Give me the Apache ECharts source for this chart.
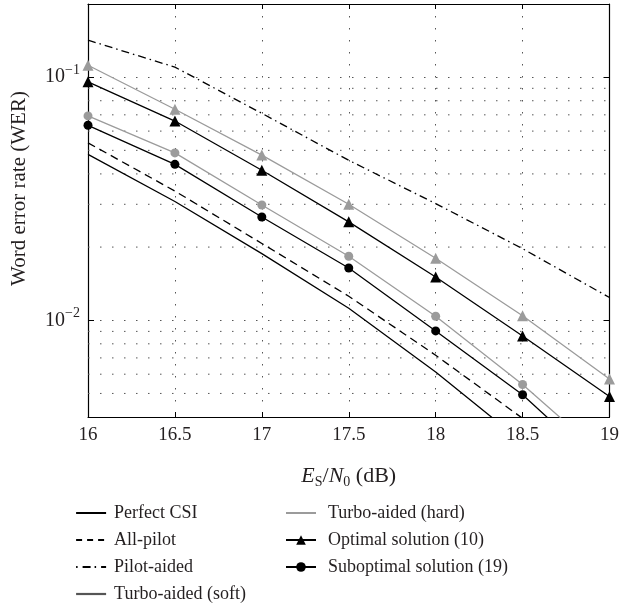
<!DOCTYPE html>
<html lang="en">
<head>
<meta charset="UTF-8">
<title>Word error rate vs Es/N0</title>
<script src="https://cdn.jsdelivr.net/npm/echarts@6/dist/echarts.min.js"></script>
<style>
  html, body { margin: 0; padding: 0; background: #fff; }
  #main { width: 622px; height: 604px; }
</style>
</head>
<body>
<div id="main"></div>
<script>
// Es/N0 in dB
var snr = [16, 16.5, 17, 17.5, 18, 18.5, 19];

// WER (points below 4e-3 only steer the clipped line end)
var perfectCSI = [0.0481, 0.0308, 0.0188, 0.0112, 0.00613, 0.00315];
var allPilot   = [0.0537, 0.0340, 0.0207, 0.01256, 0.00718, 0.00395];
var pilotAided = [0.142, 0.110, 0.071, 0.0455, 0.0302, 0.0197, 0.0124];
var turboSoft  = [0.0693, 0.0488, 0.0298, 0.01834, 0.01039, 0.00544, 0.00264];
var turboHard  = [0.112, 0.0738, 0.0478, 0.0300, 0.0180, 0.01043, 0.00573];
var optimal    = [0.0957, 0.0660, 0.0414, 0.0254, 0.01507, 0.00862, 0.00486];
var suboptimal = [0.0634, 0.0438, 0.0266, 0.0164, 0.00904, 0.00494, 0.00232];

// dotted minor grid lines on the log axis
var minorGrid = [0.005, 0.006, 0.007, 0.008, 0.009, 0.02, 0.03, 0.04, 0.05, 0.06, 0.07, 0.08, 0.09];

var serif = "'Liberation Serif', 'DejaVu Serif', serif";
var ink = '#231f20';
var gray = '#9b9b9b';
var dots = [1.5, 10.5];

function pairs(ys) {
    return ys.map(function (y, i) { return [snr[i], y]; });
}

function isPow10(v) {
    var l = Math.log10(v);
    return Math.abs(l - Math.round(l)) < 1e-6;
}

function curve(name, ys, color, lineType, symbol) {
    return {
        name: name,
        type: 'line',
        data: pairs(ys),
        color: color,
        symbol: symbol || 'none',
        symbolSize: symbol === 'triangle' ? 11 : 9,
        showSymbol: !!symbol,
        clip: true,
        z: 3,
        lineStyle: { color: color, width: 1.3, type: lineType },
        itemStyle: { color: color },
        emphasis: { disabled: true }
    };
}

// minor grid: a plain dotted line across the whole x range at each value
var gridSeries = minorGrid.map(function (v) {
    return {
        name: 'grid-' + v,
        type: 'line',
        data: [[snr[0], v], [snr[snr.length - 1], v]],
        symbol: 'none',
        silent: true,
        z: 1,
        lineStyle: { color: '#555', width: 1, type: dots },
        emphasis: { disabled: true },
        tooltip: { show: false }
    };
});

var chart = echarts.init(document.getElementById('main'));

chart.setOption({
    animation: false,
    backgroundColor: '#fff',
    grid: { left: 88, right: 12, top: 4, bottom: 187 },
    xAxis: [{
        type: 'value',
        min: 16, max: 19, interval: 0.5,
        name: '{i|E}{sub|S}{n|/}{i|N}{sub|0}{n| (dB)}',
        nameLocation: 'middle',
        nameGap: 46,
        nameTextStyle: {
            color: ink,
            rich: {
                i: { fontFamily: serif, fontSize: 22, fontStyle: 'italic', color: ink, lineHeight: 26 },
                n: { fontFamily: serif, fontSize: 22, color: ink, lineHeight: 26 },
                sub: { fontFamily: serif, fontSize: 14, color: ink, lineHeight: 14, verticalAlign: 'bottom' }
            }
        },
        axisLine: { lineStyle: { color: '#000', width: 1.2 } },
        axisTick: { inside: true, length: 5, lineStyle: { color: '#000' } },
        axisLabel: { margin: 9, fontFamily: serif, fontSize: 19, color: ink },
        splitLine: { show: true, lineStyle: { color: '#555', width: 1, type: dots } }
    }, {
        type: 'value',
        position: 'top',
        min: 16, max: 19, interval: 0.5,
        axisLine: { show: true, lineStyle: { color: '#000', width: 1.2 } },
        axisTick: { inside: true, length: 5, lineStyle: { color: '#000' } },
        axisLabel: { show: false },
        splitLine: { show: false }
    }],
    yAxis: [{
        type: 'log',
        logBase: 10,
        min: 0.004, max: 0.2,
        name: 'Word error rate (WER)',
        nameLocation: 'middle',
        nameGap: 58,
        nameTextStyle: { fontFamily: serif, fontSize: 21, color: ink, padding: [0, 0, 0, 44] },
        axisLine: { show: true, lineStyle: { color: '#000', width: 1.2 } },
        axisTick: { inside: true, length: 6, lineStyle: { color: '#000' } },
        axisLabel: {
            margin: 8,
            color: ink,
            formatter: function (v) {
                if (!isPow10(v)) return '';
                return '{b|10}{s|\u2212' + Math.abs(Math.round(Math.log10(v))) + '}';
            },
            rich: {
                b: { fontFamily: serif, fontSize: 20, color: ink, lineHeight: 28 },
                s: { fontFamily: serif, fontSize: 14, color: ink, lineHeight: 14, verticalAlign: 'top' }
            }
        },
        splitLine: { show: true, lineStyle: { color: '#555', width: 1, type: dots } }
    }, {
        type: 'log',
        logBase: 10,
        position: 'right',
        min: 0.004, max: 0.2,
        axisLine: { show: true, lineStyle: { color: '#000', width: 1.2 } },
        axisTick: { inside: true, length: 6, lineStyle: { color: '#000' } },
        axisLabel: { show: false },
        splitLine: { show: false }
    }],
    legend: [{
        left: 75, top: 504,
        padding: 0,
        orient: 'vertical',
        itemWidth: 30, itemHeight: 12, itemGap: 9,
        selectedMode: false,
        textStyle: { fontFamily: serif, fontSize: 18, color: ink, lineHeight: 17, padding: [0, 0, 0, 3] },
        data: [
            { name: 'Perfect CSI', itemStyle: { opacity: 0 } },
            { name: 'All-pilot', itemStyle: { opacity: 0 }, lineStyle: { type: [6, 5] } },
            { name: 'Pilot-aided', itemStyle: { opacity: 0 }, lineStyle: { type: [1.5, 5, 8, 4] } },
            { name: 'Turbo-aided (soft)', itemStyle: { opacity: 0 }, lineStyle: { color: '#555', width: 2.2 } }
        ]
    }, {
        left: 285, top: 504,
        padding: 0,
        orient: 'vertical',
        itemWidth: 30, itemHeight: 12, itemGap: 9,
        selectedMode: false,
        textStyle: { fontFamily: serif, fontSize: 18, color: ink, lineHeight: 17, padding: [0, 0, 0, 7] },
        data: [
            { name: 'Turbo-aided (hard)', itemStyle: { opacity: 0 } },
            'Optimal solution (10)',
            'Suboptimal solution (19)'
        ]
    }],
    series: gridSeries.concat([
        curve('Perfect CSI', perfectCSI, '#000', 'solid'),
        curve('All-pilot', allPilot, '#000', [8, 5]),
        curve('Pilot-aided', pilotAided, '#000', [8, 4, 1.5, 4]),
        curve('Turbo-aided (soft)', turboSoft, gray, 'solid', 'circle'),
        curve('Turbo-aided (hard)', turboHard, gray, 'solid', 'triangle'),
        curve('Optimal solution (10)', optimal, '#000', 'solid', 'triangle'),
        curve('Suboptimal solution (19)', suboptimal, '#000', 'solid', 'circle')
    ])
});
</script>
</body>
</html>
